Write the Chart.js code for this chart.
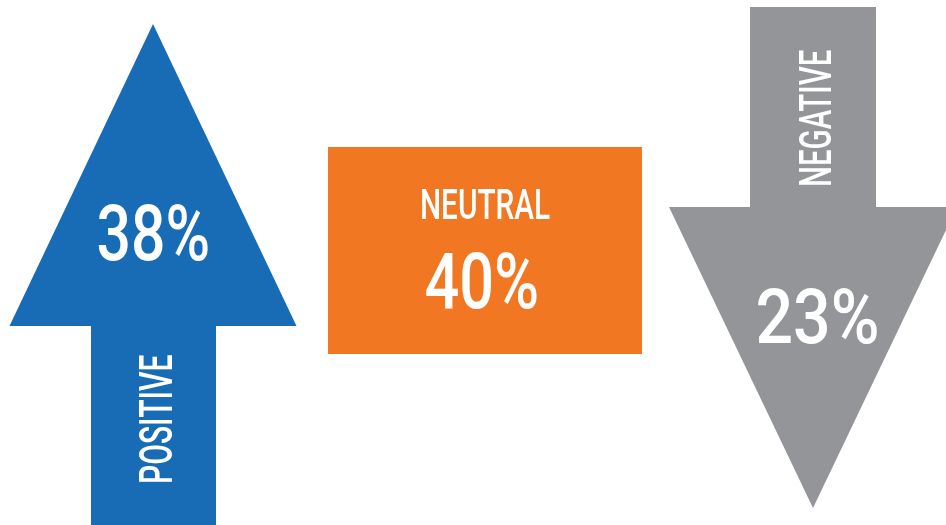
<!DOCTYPE html>
<html>
<head>
<meta charset="utf-8">
<script src="https://cdn.jsdelivr.net/npm/chart.js@4.4.0/dist/chart.umd.min.js"></script>
<style>
  html, body { margin: 0; padding: 0; background: #fff; }
  #wrap { width: 946px; height: 525px; position: relative; }
</style>
</head>
<body>
<div id="wrap"><canvas id="myChart"></canvas></div>
<script>

var categories = ['POSITIVE', 'NEUTRAL', 'NEGATIVE'];
var values = [38, 40, 23];

// style only
var colors = ['#176cb5', '#f17722', '#949599'];
var shapes = ['up', 'box', 'down'];

function fitText(ctx, text, x, y, size, width, angle){
  ctx.save();
  ctx.translate(x, y);
  if (angle) ctx.rotate(angle);
  ctx.font = '500 ' + size + 'px Roboto, "Liberation Sans", Arial, sans-serif';
  ctx.textAlign = 'left';
  ctx.textBaseline = 'alphabetic';
  var m = ctx.measureText(text);
  var l = m.actualBoundingBoxLeft, r = m.actualBoundingBoxRight;
  ctx.scale(width / (l + r), 1);
  ctx.fillStyle = '#fff';
  ctx.fillText(text, (l - r) / 2, 0);
  ctx.restore();
}

var arrowPlugin = {
  id: 'arrows',
  afterDatasetsDraw: function(chart){
    var ctx = chart.ctx;
    var meta = chart.getDatasetMeta(0);
    var bottom = chart.height;
    meta.data.forEach(function(bar, i){
      var cx = bar.x;
      var pct = values[i] + '%';
      ctx.save();
      ctx.fillStyle = colors[i];
      ctx.beginPath();
      if (shapes[i] == 'up'){
        ctx.moveTo(cx, 24);
        ctx.lineTo(cx + 143.5, 326);
        ctx.lineTo(cx + 63, 326);
        ctx.lineTo(cx + 63, bottom);
        ctx.lineTo(cx - 62, bottom);
        ctx.lineTo(cx - 62, 326);
        ctx.lineTo(cx - 143.5, 326);
      } else if (shapes[i] == 'down'){
        ctx.moveTo(cx - 63, 7);
        ctx.lineTo(cx + 63, 7);
        ctx.lineTo(cx + 63, 207);
        ctx.lineTo(cx + 144, 207);
        ctx.lineTo(cx, 508);
        ctx.lineTo(cx - 144, 207);
        ctx.lineTo(cx - 63, 207);
      } else {
        ctx.rect(cx - 155, 147, 314, 207);
      }
      ctx.closePath();
      ctx.fill();
      ctx.restore();

      // texto dentro de cada forma
      if (shapes[i] == 'up'){
        fitText(ctx, pct, cx, 260, 77, 110);
        fitText(ctx, categories[i], cx + 19, 418.5, 47, 127, -Math.PI / 2);
      } else if (shapes[i] == 'down'){
        fitText(ctx, pct, cx + 4.5, 343, 76, 119);
        fitText(ctx, categories[i], cx + 18, 117.5, 45, 135, -Math.PI / 2);
      } else {
        fitText(ctx, categories[i], cx + 3, 219, 43, 128);
        fitText(ctx, pct, cx - 1.5, 308, 77, 111);
      }
    });
  }
};

const ctx = document.getElementById('myChart');
new Chart(ctx, {
  type: 'bar',
  data: {
    labels: categories,
    datasets: [{
      label: 'Sentiment',
      data: values,
      backgroundColor: 'rgba(0,0,0,0)',
      borderWidth: 0
    }]
  },
  options: {
    responsive: true,
    maintainAspectRatio: false,
    animation: false,
    devicePixelRatio: 1,
    layout: { padding: { left: 153, right: 133, top: 0, bottom: 0 } },
    plugins: {
      legend: { display: false },
      tooltip: { enabled: false }
    },
    scales: {
      x: { display: false, offset: false },
      y: { display: false, min: 0, max: 100 }
    }
  },
  plugins: [arrowPlugin]
});
</script>
</body>
</html>
